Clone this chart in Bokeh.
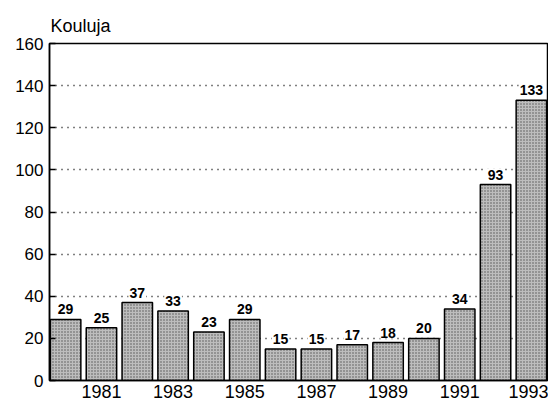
from bokeh.plotting import figure
from bokeh.models import ColumnDataSource, FixedTicker, Range1d
from bokeh.core.properties import value
from bokeh.embed import file_html
from bokeh.resources import INLINE

years = [1980, 1981, 1982, 1983, 1984, 1985, 1986, 1987, 1988, 1989, 1990, 1991, 1992, 1993]
schools = [29, 25, 37, 33, 23, 29, 15, 15, 17, 18, 20, 34, 93, 133]
x_ticks = [1981, 1983, 1985, 1987, 1989, 1991, 1993]
y_ticks = [0, 20, 40, 60, 80, 100, 120, 140, 160]
title_text = "Kouluja"

src = ColumnDataSource(dict(x=years, y=schools, lbl=[str(v) for v in schools]))

FONT = "Liberation Sans"

p = figure(width=548, height=403, output_backend="svg", toolbar_location=None,
           x_range=Range1d(1979.55, 1993.45), y_range=Range1d(0, 160),
           min_border_left=49, min_border_right=1, min_border_top=43, min_border_bottom=23)

p.title.text = title_text
p.title.text_font = FONT
p.title.text_font_size = "18px"
p.title.text_font_style = "normal"
p.title.text_color = "black"
p.title.align = "left"
p.title.offset = 1
p.title.standoff = 15

p.outline_line_color = "black"
p.outline_line_width = 1.5
p.background_fill_color = "white"
p.border_fill_color = "white"

p.vbar(x="x", top="y", width=0.85, bottom=0, source=src,
       fill_color="#bdbdbd", line_color="black", line_width=1.5,
       hatch_pattern="dot", hatch_scale=3, hatch_color="#555555", hatch_weight=1)

p.text(x="x", y="y", text="lbl", source=src, text_align="center", text_baseline="bottom",
       y_offset=-4, text_font=value(FONT), text_font_size="14px", text_font_style="bold",
       text_color="black", background_fill_color="white", padding=1)

p.xaxis.ticker = FixedTicker(ticks=x_ticks)
p.yaxis.ticker = FixedTicker(ticks=y_ticks)
for ax in (p.xaxis, p.yaxis):
    ax.axis_line_color = "black"
    ax.axis_line_width = 1.5
    ax.major_label_text_font = FONT
    ax.major_label_text_color = "black"
    ax.minor_tick_line_color = None
    ax.major_tick_out = 0
p.xaxis.major_tick_in = 0
p.xaxis.major_label_text_font_size = "18px"
p.xaxis.major_label_standoff = 4
p.yaxis.major_tick_in = 6
p.yaxis.major_tick_line_width = 1.5
p.yaxis.major_label_text_font_size = "17px"
p.yaxis.major_label_standoff = 6

p.xgrid.grid_line_color = None
p.ygrid.grid_line_color = "black"
p.ygrid.grid_line_dash = "1 5"
p.ygrid.grid_line_width = 1.5

open("out.html", "w").write(file_html(p, INLINE))
